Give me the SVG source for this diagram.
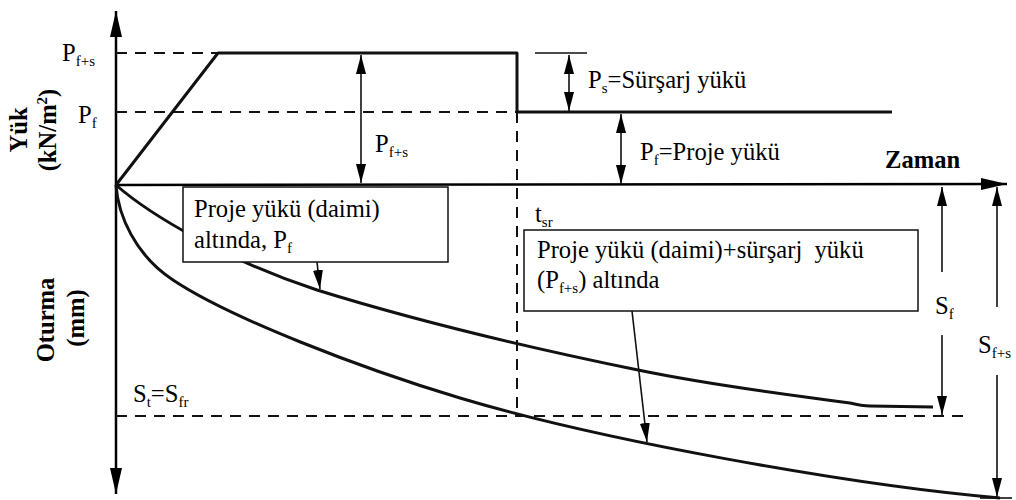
<svg xmlns="http://www.w3.org/2000/svg" width="1016" height="500" viewBox="0 0 1016 500">
  <style>
    .axis { stroke: #000; stroke-width: 2.5; fill: none; }
    .thick { stroke: #111; stroke-width: 3; fill: none; stroke-linejoin: round; }
    .dash { stroke: #111; stroke-width: 2; fill: none; stroke-dasharray: 11 8; }
    .dim { stroke: #111; stroke-width: 1.6; fill: none; }
    .box { fill: #fff; stroke: #111; stroke-width: 1.5; }
    text { font-family: "Liberation Serif", "Times New Roman", serif; fill: #000; }
    .lbl { font-size: 24.6px; }
    .sub { font-size: 15px; }
    .bold { font-size: 24.6px; font-weight: bold; }
  </style>
  <defs>
    <marker id="axHead" markerUnits="userSpaceOnUse" markerWidth="28" markerHeight="12" refX="26" refY="6" orient="auto-start-reverse">
      <path d="M0,0 L26,6 L0,12 z" fill="#000"/>
    </marker>
    <marker id="dimHead" markerUnits="userSpaceOnUse" markerWidth="20" markerHeight="10" refX="19" refY="5" orient="auto-start-reverse">
      <path d="M0,0 L19,5 L0,10 z" fill="#000"/>
    </marker>
  </defs>

  <rect width="1016" height="500" fill="#fff"/>

  <!-- axes -->
  <g id="axes">
    <line class="axis" x1="116" y1="185" x2="116" y2="11" marker-end="url(#axHead)"/>
    <line class="axis" x1="116" y1="185" x2="116" y2="494" marker-end="url(#axHead)"/>
    <line class="axis" x1="116" y1="185" x2="1007" y2="184" marker-end="url(#axHead)"/>
  </g>

  <!-- reference dashed lines -->
  <g id="guides">
    <line class="dash" x1="116" y1="53" x2="218" y2="53"/>
    <line class="dash" x1="116" y1="112" x2="517" y2="112"/>
    <line class="dash" x1="517" y1="112" x2="517" y2="416"/>
    <line class="dash" x1="116" y1="416" x2="968" y2="416"/>
  </g>

  <!-- load history -->
  <g id="load-path">
    <path class="thick" d="M116,185 L218,53 L517,53 L517,112 L892,112"/>
  </g>

  <!-- settlement curves -->
  <g id="settlement-curves">
    <path id="curve-pf" class="thick" d="M116,185 C150,215 230,262 317,290 C420,322 540,350 638,370 C720,387 800,396 850,403 C858,405 862,406 870,406 L933,407"/>
    <path id="curve-pfs" class="thick" d="M116,185 C118,215 135,255 173,280 C230,318 360,368 460,398 C600,440 850,485 1000,498"/>
  </g>

  <!-- dimension arrows and leaders -->
  <g id="connectors">
    <line class="dim" x1="361" y1="55" x2="361" y2="183" marker-start="url(#dimHead)" marker-end="url(#dimHead)"/>
    <line class="dim" x1="535" y1="53" x2="587" y2="53"/>
    <line class="dim" x1="569" y1="55" x2="569" y2="111" marker-start="url(#dimHead)" marker-end="url(#dimHead)"/>
    <line class="dim" x1="621" y1="114" x2="621" y2="184" marker-start="url(#dimHead)" marker-end="url(#dimHead)"/>
    <line class="dim" x1="942" y1="272" x2="942" y2="187" marker-end="url(#dimHead)"/>
    <line class="dim" x1="942" y1="335" x2="942" y2="415" marker-end="url(#dimHead)"/>
    <line class="dim" x1="997" y1="307" x2="997" y2="187" marker-end="url(#dimHead)"/>
    <line class="dim" x1="997" y1="375" x2="997" y2="497" marker-end="url(#dimHead)"/>
    <line class="dim" x1="980" y1="498" x2="1012" y2="498"/>
    <line class="dim" x1="317" y1="262" x2="320" y2="289" marker-end="url(#dimHead)"/>
    <line class="dim" x1="632" y1="311" x2="647" y2="442" marker-end="url(#dimHead)"/>
  </g>

  <!-- axis titles -->
  <g id="axis-titles">
    <text class="bold" transform="translate(27,130) rotate(-90)" text-anchor="middle">Yük</text>
    <text class="bold" transform="translate(56,130) rotate(-90)" text-anchor="middle">(kN/m<tspan font-size="15" dy="-9">2</tspan><tspan dy="9">)</tspan></text>
    <text class="bold" transform="translate(54,320) rotate(-90)" text-anchor="middle">Oturma</text>
    <text class="bold" transform="translate(84,318) rotate(-90)" text-anchor="middle">(mm)</text>
    <text class="bold" x="885" y="168">Zaman</text>
  </g>

  <!-- load and settlement labels -->
  <g id="labels">
    <text class="lbl" x="62" y="61">P<tspan class="sub" dy="5">f+s</tspan></text>
    <text class="lbl" x="78" y="123">P<tspan class="sub" dy="5">f</tspan></text>
    <text class="lbl" x="375" y="152">P<tspan class="sub" dy="5">f+s</tspan></text>
    <text class="lbl" x="588" y="88">P<tspan class="sub" dy="5">s</tspan><tspan dy="-5">=Sürşarj yükü</tspan></text>
    <text class="lbl" x="640" y="160">P<tspan class="sub" dy="5">f</tspan><tspan dy="-5">=Proje yükü</tspan></text>
    <text class="lbl" x="535" y="222">t<tspan class="sub" dy="5">sr</tspan></text>
    <text class="lbl" x="133" y="402">S<tspan class="sub" dy="5">t</tspan><tspan dy="-5">=S</tspan><tspan class="sub" dy="5">fr</tspan></text>
    <text class="lbl" x="935" y="314">S<tspan class="sub" dy="5">f</tspan></text>
    <text class="lbl" x="978" y="353">S<tspan class="sub" dy="5">f+s</tspan></text>
  </g>

  <!-- callout: design load curve -->
  <g id="box-pf">
    <rect class="box" x="183" y="187" width="265" height="75"/>
    <text class="lbl" x="194" y="217">Proje yükü (daimi)</text>
    <text class="lbl" x="194" y="248">altında, P<tspan class="sub" dy="5">f</tspan></text>
  </g>

  <!-- callout: design + surcharge load curve -->
  <g id="box-pfs">
    <rect class="box" x="524" y="230" width="394" height="81"/>
    <text class="lbl" x="537" y="258" xml:space="preserve">Proje yükü (daimi)+sürşarj  yükü</text>
    <text class="lbl" x="537" y="288">(P<tspan class="sub" dy="5">f+s</tspan><tspan dy="-5">) altında</tspan></text>
  </g>
</svg>
